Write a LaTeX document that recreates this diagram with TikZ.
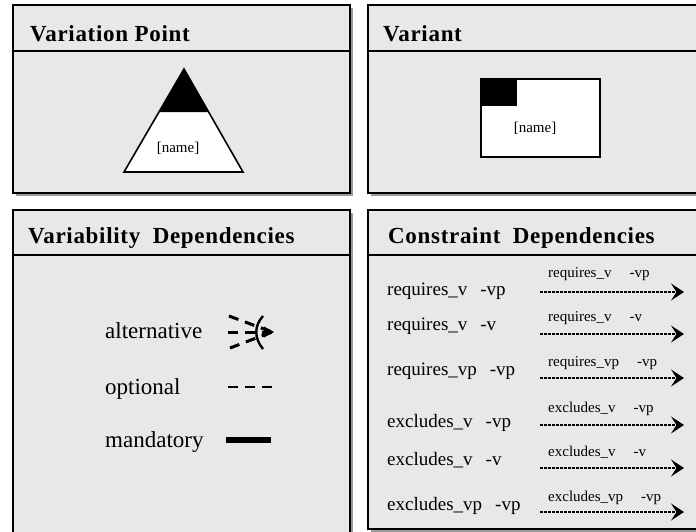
\documentclass[tikz,border=0pt]{standalone}
\usepackage{fontspec}
\setmainfont{Liberation Serif}
\newfontfamily\ttlfont[LetterSpace=3]{Liberation Serif}
\usetikzlibrary{arrows.meta}
\definecolor{panelbg}{HTML}{E8E8E8}
\definecolor{shadowc}{HTML}{9A9A9A}
\begin{document}
\begin{tikzpicture}[x=1pt,y=-1pt,
  panelbox/.style={fill=panelbg,draw=black,line width=2.8pt},
  headline/.style={line width=1.1pt},
  ttl/.style={anchor=base west,inner sep=0pt,font=\ttlfont\fontsize{23}{27}\selectfont\bfseries},
  bigtxt/.style={anchor=base west,inner sep=0pt,font=\fontsize{23}{27}\selectfont},
  cdtxt/.style={anchor=base west,inner sep=0pt,font=\fontsize{19}{22}\selectfont},
  smalltxt/.style={anchor=base west,inner sep=0pt,font=\fontsize{15}{18}\selectfont},
  nametxt/.style={inner sep=0pt,font=\fontsize{15}{18}\selectfont},
  cdarrow/.style={line width=2.8pt,dash pattern=on 3pt off 1pt,-{Stealth[length=13pt,width=17pt,inset=5.5pt]}},
  altline/.style={line width=3pt,dash pattern=on 10pt off 7pt}
]
\useasboundingbox (0,0) rectangle (696,531);
\clip (0,0) rectangle (696,531);
\fill[white] (0,0) rectangle (696,531);

% shadows
\fill[shadowc] (16,8) rectangle (353,196);
\fill[shadowc] (371,8) rectangle (713,196);
\fill[shadowc] (16,213) rectangle (353,543);
\fill[shadowc] (371,213) rectangle (713,532);

% panels
\draw[panelbox] (13,5) rectangle (350,193);
\draw[panelbox] (368,5) rectangle (710,193);
\draw[panelbox] (13,210) rectangle (350,540);
\draw[panelbox] (368,210) rectangle (710,529);

\draw[headline] (13,51) -- (350,51);
\draw[headline] (368,51) -- (710,51);
\draw[headline] (13,255) -- (350,255);
\draw[headline] (368,255) -- (710,255);

% titles
\node[ttl] (t1) at (30,41) {Variation Point};
\node[ttl] (t2) at (383,41) {Variant};
\node[ttl] (t3) at (28,243) {Variability\hspace{6pt} Dependencies};
\node[ttl] (t4) at (388,243) {Constraint\hspace{6pt} Dependencies};

% variation point triangle
\fill[white] (184,69) -- (243,172) -- (124,172) -- cycle;
\fill[black] (184,69) -- (208.8,112) -- (159.2,112) -- cycle;
\draw[line width=1.6pt,line join=miter] (184,69) -- (243,172) -- (124,172) -- cycle;
\node[nametxt] (vpname) at (178,148) {[name]};

% variant rectangle
\draw[fill=white,line width=1.1pt] (481,79) rectangle (600,157);
\fill[black] (481,79) rectangle (517,106);
\node[nametxt] (vname) at (535,128) {[name]};

% variability dependencies
\node[bigtxt] (alt) at (105,338) {alternative};
\node[bigtxt] (opt) at (105,394) {optional};
\node[bigtxt] (man) at (105,447) {mandatory};

\coordinate (altend) at (272,332);
\coordinate (altA) at (229,316);
\coordinate (altB) at (228,332);
\coordinate (altC) at (230,348);
\draw[altline] (altA) -- (altend);
\draw[altline] (altB) -- (altend);
\draw[altline] (altC) -- (altend);
\draw[line width=2.4pt] (263,316) .. controls (254,326) and (254,338) .. (263,349);
\fill[black] (274,332) -- (264,326.5) -- (264,337.5) -- cycle;

\coordinate (optA) at (228,387);
\coordinate (optB) at (272,387);
\draw[line width=2.8pt,dash pattern=on 10pt off 7pt] (optA) -- (optB);

\coordinate (manA) at (226,440);
\coordinate (manB) at (271,440);
\draw[line width=5.5pt] (manA) -- (manB);

% constraint dependencies
\node[cdtxt] (c1) at (387,295) {requires\_v\hspace{13pt}-vp};
\node[cdtxt] (c2) at (387,330) {requires\_v\hspace{13pt}-v};
\node[cdtxt] (c3) at (387,375) {requires\_vp\hspace{13pt}-vp};
\node[cdtxt] (c4) at (387,427) {excludes\_v\hspace{13pt}-vp};
\node[cdtxt] (c5) at (387,465) {excludes\_v\hspace{13pt}-v};
\node[cdtxt] (c6) at (387,510) {excludes\_vp\hspace{13pt}-vp};

\node[smalltxt] (s1) at (548,277) {requires\_v\hspace{18pt}-vp};
\node[smalltxt] (s2) at (548,321) {requires\_v\hspace{18pt}-v};
\node[smalltxt] (s3) at (548,366) {requires\_vp\hspace{18pt}-vp};
\node[smalltxt] (s4) at (548,412) {excludes\_v\hspace{18pt}-vp};
\node[smalltxt] (s5) at (548,456) {excludes\_v\hspace{18pt}-v};
\node[smalltxt] (s6) at (548,501) {excludes\_vp\hspace{18pt}-vp};

\foreach \i/\y in {1/292,2/334,3/378,4/425,5/468,6/512}{
  \coordinate (a\i) at (540,\y);
  \coordinate (b\i) at (684,\y);
  \draw[cdarrow] (a\i) -- (b\i);
}
\end{tikzpicture}
\end{document}
